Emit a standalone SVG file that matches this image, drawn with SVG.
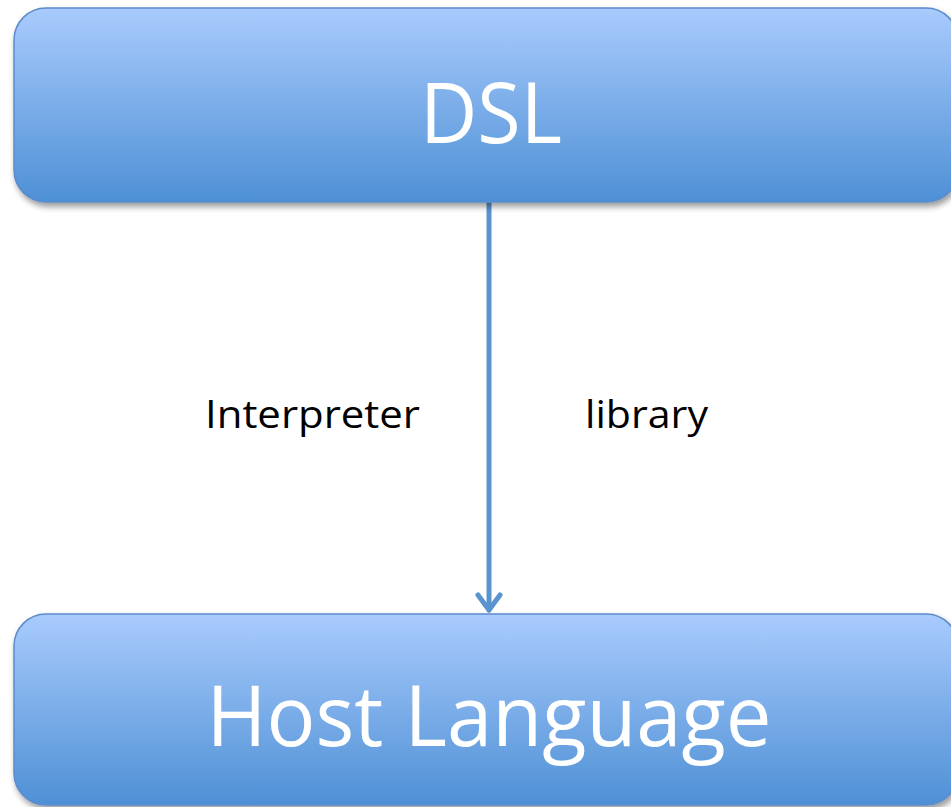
<svg xmlns="http://www.w3.org/2000/svg" width="951" height="807" viewBox="0 0 951 807">
<defs>
<linearGradient id="g" x1="0" y1="0" x2="0" y2="1">
<stop offset="0" stop-color="#a9cbfd"/>
<stop offset="1" stop-color="#4e90d5"/>
</linearGradient>
<filter id="sh" x="-5%" y="-10%" width="110%" height="125%">
<feGaussianBlur in="SourceAlpha" stdDeviation="3"/>
<feOffset dx="2" dy="4" result="b"/>
<feComponentTransfer><feFuncA type="linear" slope="0.4"/></feComponentTransfer>
<feMerge><feMergeNode/><feMergeNode in="SourceGraphic"/></feMerge>
</filter>
</defs>
<style>
.box{fill:url(#g);stroke:#5b8ccb;stroke-width:1.5;filter:url(#sh)}
.big{font-family:"Open Sans","Liberation Sans",sans-serif;font-size:84px;fill:#fff;text-anchor:middle}
.lbl{font-family:"Open Sans","Liberation Sans",sans-serif;font-size:38px;fill:#000}
.conn{stroke:#5b93cf;stroke-width:5;fill:none;stroke-linecap:round;stroke-linejoin:round}
</style>
<g id="connectors">
<line class="conn" x1="489" y1="202" x2="489" y2="610"/>
<polyline class="conn" points="478,595 489,610 500,595"/>
</g>
<g id="dsl">
<rect class="box" x="14" y="8" width="944" height="194" rx="32" ry="32"/>
<text class="big" x="491" y="143" textLength="142" lengthAdjust="spacingAndGlyphs">DSL</text>
</g>
<g id="host">
<rect class="box" x="14" y="614" width="944" height="191" rx="32" ry="32"/>
<text class="big" x="489" y="746" textLength="565" lengthAdjust="spacingAndGlyphs">Host Language</text>
</g>
<g id="labels">
<text class="lbl" x="205" y="428" textLength="215" lengthAdjust="spacingAndGlyphs">Interpreter</text>
<text class="lbl" x="585" y="428" textLength="123" lengthAdjust="spacingAndGlyphs">library</text>
</g>
</svg>
